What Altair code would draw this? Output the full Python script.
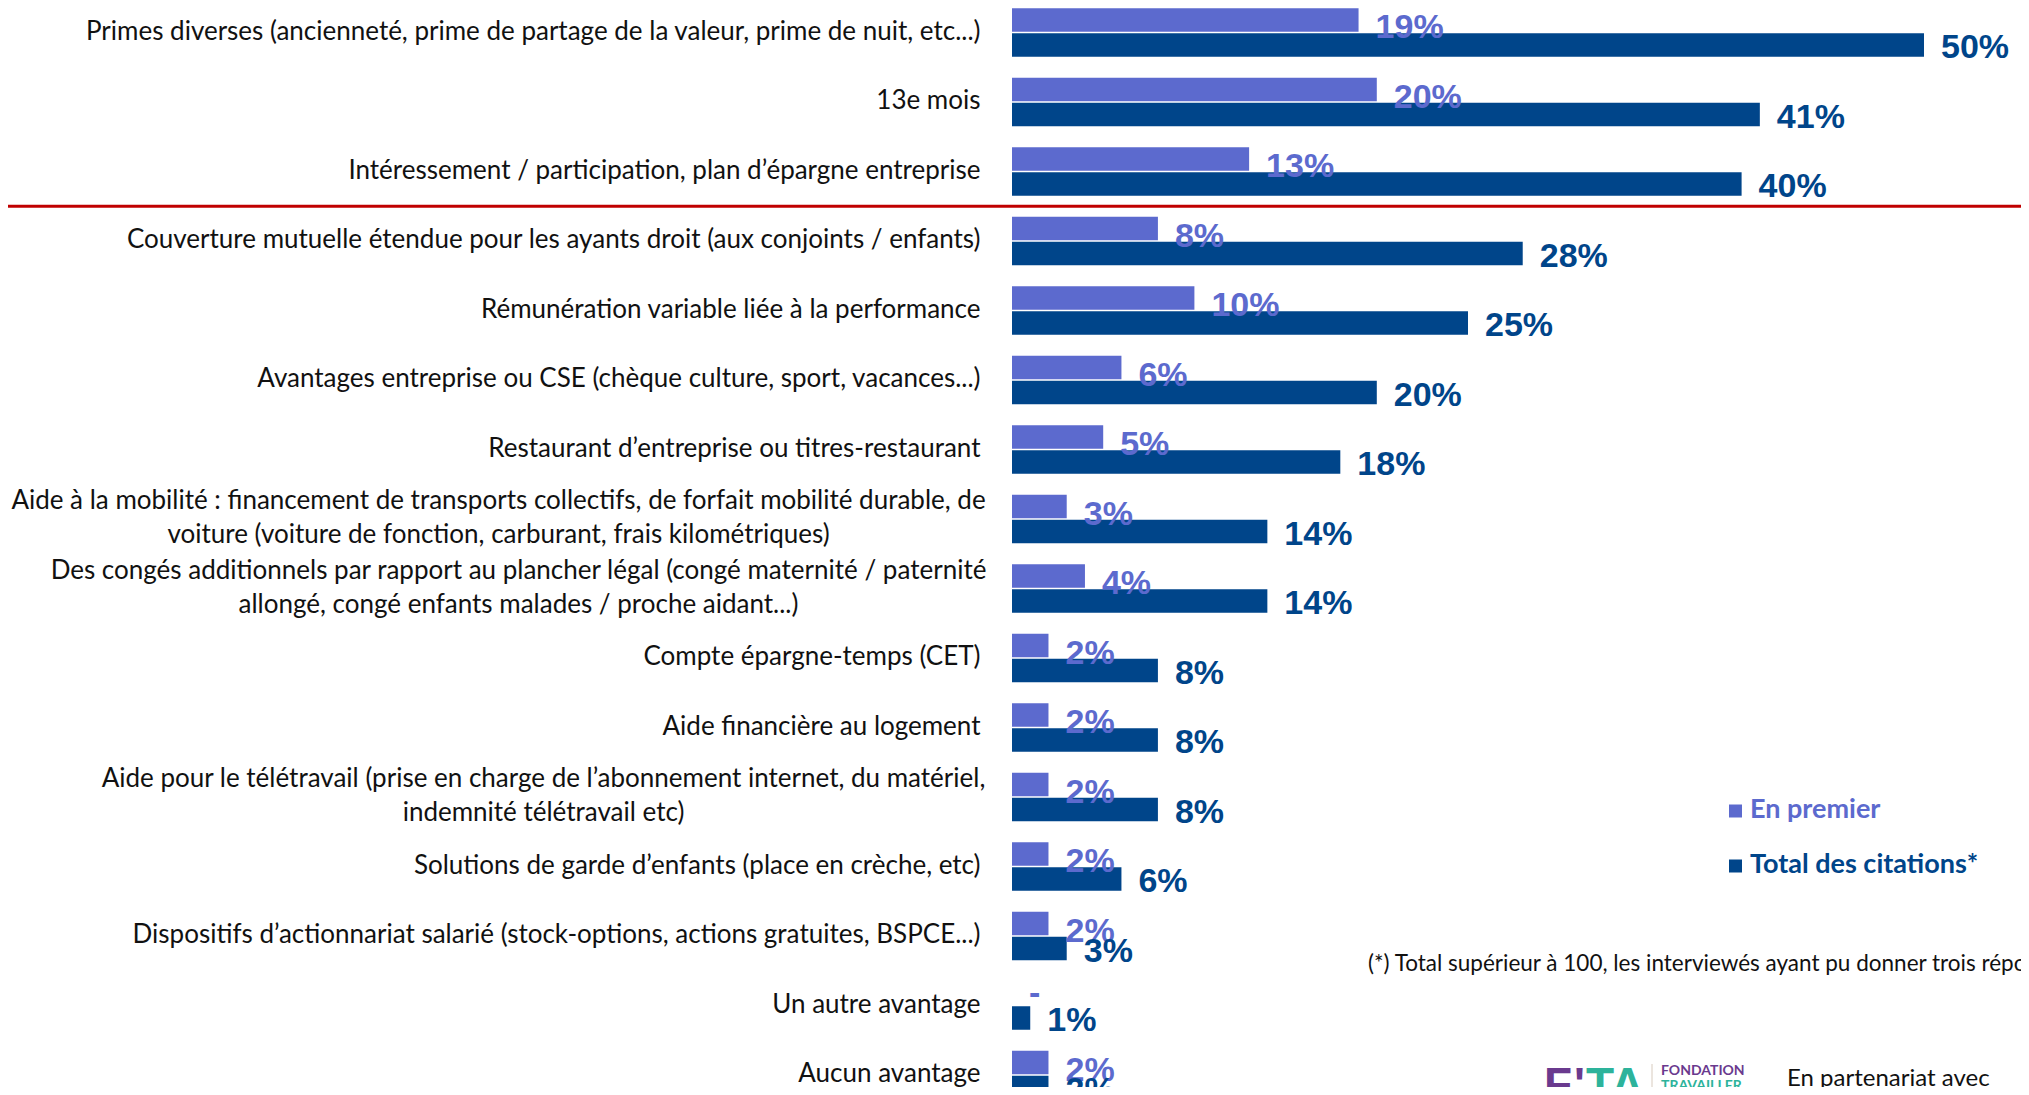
import altair as alt
import pandas as pd

categories = [
    "Primes diverses (ancienneté, prime de partage de la valeur, prime de nuit, etc...)",
    "13e mois",
    "Intéressement / participation, plan d’épargne entreprise",
    "Couverture mutuelle étendue pour les ayants droit (aux conjoints / enfants)",
    "Rémunération variable liée à la performance",
    "Avantages entreprise ou CSE (chèque culture, sport, vacances...)",
    "Restaurant d’entreprise ou titres-restaurant",
    "Aide à la mobilité : financement de transports collectifs, de forfait mobilité durable, de\nvoiture (voiture de fonction, carburant, frais kilométriques)",
    "Des congés additionnels par rapport au plancher légal (congé maternité / paternité\nallongé, congé enfants malades / proche aidant...)",
    "Compte épargne-temps (CET)",
    "Aide financière au logement",
    "Aide pour le télétravail (prise en charge de l’abonnement internet, du matériel,\nindemnité télétravail etc)",
    "Solutions de garde d’enfants (place en crèche, etc)",
    "Dispositifs d’actionnariat salarié (stock-options, actions gratuites, BSPCE...)",
    "Un autre avantage",
    "Aucun avantage",
]
series = ["En premier", "Total des citations*"]
premier_values = [19, 20, 13, 8, 10, 6, 5, 3, 4, 2, 2, 2, 2, 2, 0, 2]
premier_labels = ["19%", "20%", "13%", "8%", "10%", "6%", "5%", "3%", "4%", "2%", "2%", "2%", "2%", "2%", "-", "2%"]
total_values = [50, 41, 40, 28, 25, 20, 18, 14, 14, 8, 8, 8, 6, 3, 1, 2]
total_labels = ["50%", "41%", "40%", "28%", "25%", "20%", "18%", "14%", "14%", "8%", "8%", "8%", "6%", "3%", "1%", "2%"]
colors = ["#5C6ACE", "#00458A"]
footnote = "(*) Total supérieur à 100, les interviewés ayant pu donner trois réponses"
partner = "En partenariat avec"

rows = []
for c, v, l in zip(categories, premier_values, premier_labels):
    rows.append({"cat": c, "series": series[0], "value": v, "label": l})
for c, v, l in zip(categories, total_values, total_labels):
    rows.append({"cat": c, "series": series[1], "value": v, "label": l})
df = pd.DataFrame(rows)

W = 1009
H = 1079
PX_PER_PCT = 18.24

label_font = "Lato"
num_font = "Liberation Sans"

y_axis = alt.Axis(
    title=None,
    domain=False,
    ticks=False,
    tickSize=0,
    grid=False,
    labelFont=label_font,
    labelFontSize=26,
    labelColor="#111111",
    labelLimit=1000,
    labelLineHeight=34,
    labelExpr="split(datum.label, '\\n')",
    labelOffset={
        "condition": {"test": "indexof(datum.value, '\\n') >= 0", "value": -18},
        "value": -1,
    },
    labelAlign={
        "condition": {"test": "indexof(datum.value, '\\n') >= 0", "value": "center"},
        "value": "right",
    },
    labelPadding={
        "condition": [
            {"test": "indexof(datum.value, 'Aide à la mob') == 0", "value": 514},
            {"test": "indexof(datum.value, 'Des congés') == 0", "value": 494},
            {"test": "indexof(datum.value, 'Aide pour le t') == 0", "value": 469},
        ],
        "value": 32,
    },
)

y_scale = alt.Scale(domain=categories, range=[-10.25, -10.25 + 16 * 69.5], paddingInner=0, paddingOuter=0)
y_enc = alt.Y("cat:N", sort=categories, scale=y_scale, axis=y_axis)
yoff_enc = alt.YOffset("series:N", sort=series, scale=alt.Scale(domain=series, paddingInner=0.06, paddingOuter=0.42))
x_enc = alt.X("value:Q", scale=alt.Scale(domain=[0, W / PX_PER_PCT]), axis=None)
color_enc = alt.Color("series:N", scale=alt.Scale(domain=series, range=colors), legend=None)

base = alt.Chart(df)

bars = base.mark_bar().encode(x=x_enc, y=y_enc, yOffset=yoff_enc, color=color_enc)

num_style = dict(align="left", baseline="middle", dx=17, font=num_font, fontWeight="bold", fontSize=34)

lab_premier = base.transform_filter(
    (alt.datum.series == series[0]) & (alt.datum.label != "-")
).mark_text(dy=8, **num_style).encode(
    x=x_enc, y=y_enc, yOffset=yoff_enc, color=color_enc, text="label:N"
)

lab_dash = base.transform_filter(
    (alt.datum.series == series[0]) & (alt.datum.label == "-")
).mark_text(dy=1, **num_style).encode(
    x=x_enc, y=y_enc, yOffset=yoff_enc, color=color_enc, text="label:N"
)

lab_total = base.transform_filter(alt.datum.series == series[1]).mark_text(
    dy=3, **num_style
).encode(x=x_enc, y=y_enc, yOffset=yoff_enc, color=color_enc, text="label:N")

rule_df = pd.DataFrame({"cat": [categories[3]]})
red_rule = alt.Chart(rule_df).mark_rule(color="#C00000", strokeWidth=3).encode(
    y=alt.Y("cat:N", sort=categories, bandPosition=0, scale=y_scale, axis=y_axis),
    x=alt.value(-1004),
    x2=alt.value(W),
)

one = alt.Data(values=[{}])


def txt(text, x, y, size, color, weight="normal", align="left", baseline="middle", font=label_font):
    return alt.Chart(one).mark_text(
        align=align, baseline=baseline, font=font, fontSize=size, fontWeight=weight, color=color
    ).encode(x=alt.value(x), y=alt.value(y), text=alt.value(text))


def sq(x, y, color):
    return alt.Chart(one).mark_square(size=169, opacity=1, color=color).encode(x=alt.value(x), y=alt.value(y))


legend_layers = [
    sq(723.5, 803, colors[0]),
    txt(series[0], 738, 802, 27, colors[0], weight="bold"),
    sq(723.5, 858, colors[1]),
    txt(series[1], 738, 857, 27, colors[1], weight="bold"),
]

note = txt(footnote, 356, 956, 22.5, "#111111")
partner_txt = txt(partner, 775, 1071, 24, "#111111")

logo = [
    txt("F", 532, 1092, 46, "#6A3A8E", weight="bold", baseline="alphabetic", font="Liberation Sans"),
    txt("'", 562, 1092, 46, "#6A3A8E", weight="bold", baseline="alphabetic", font="Liberation Sans"),
    txt("TA", 574, 1092, 46, "#2DB39B", weight="bold", baseline="alphabetic", font="Liberation Sans"),
    alt.Chart(one).mark_rule(color="#D8CBBE", strokeWidth=1).encode(
        x=alt.value(640), y=alt.value(1056), y2=alt.value(1090)
    ),
    txt("FONDATION", 649, 1063, 14, "#6A3A8E", weight="bold"),
    txt("TRAVAILLER", 649, 1078, 14, "#2DB39B", weight="bold"),
]

chart = alt.layer(
    red_rule, bars, lab_premier, lab_dash, lab_total, *legend_layers, note, partner_txt, *logo
).properties(
    width=W,
    height=H,
    background="white",
    autosize=alt.AutoSizeParams(type="none"),
    padding={"left": 1004, "top": 0, "right": 0, "bottom": 0},
).configure_view(stroke=None, strokeWidth=0)

chart.save("out.html", embed_options={"renderer": "svg", "actions": False})
